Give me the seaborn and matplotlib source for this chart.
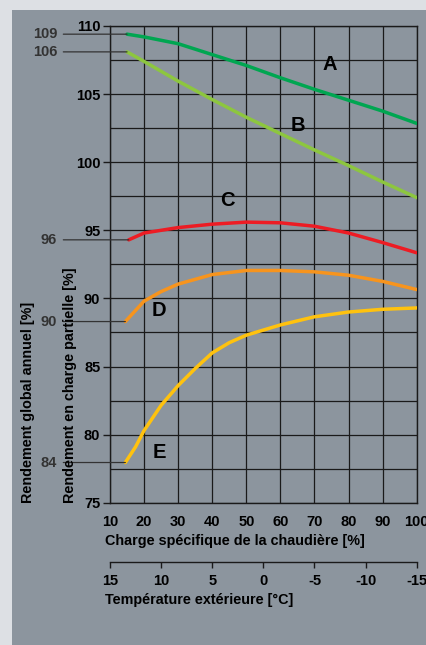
"""
Rendement de chaudière en fonction de la charge spécifique
"""

import numpy as np
import pandas as pd
import matplotlib
matplotlib.use('Agg')
import matplotlib.pyplot as plt
from matplotlib.patches import Rectangle
import seaborn as sns

# Données
charge_a = [15, 20, 30, 40, 50, 60, 70, 80, 90, 100]
rend_a = [109.4, 109.2, 108.7, 107.9, 107.1, 106.2, 105.35, 104.55, 103.75, 102.85]

charge_b = [15, 20, 30, 40, 50, 60, 70, 80, 90, 100]
rend_b = [108.1, 107.4, 105.95, 104.6, 103.3, 102.1, 100.9, 99.75, 98.55, 97.4]

charge_c = [15.5, 20, 30, 40, 50, 60, 70, 80, 90, 100]
rend_c = [94.3, 94.8, 95.2, 95.45, 95.6, 95.55, 95.3, 94.8, 94.1, 93.35]

charge_d = [14.5, 20, 25, 30, 40, 50, 60, 70, 80, 90, 100]
rend_d = [88.3, 89.8, 90.5, 91.05, 91.75, 92.05, 92.05, 91.95, 91.7, 91.25, 90.65]

charge_e = [14.5, 17.5, 20, 25, 30, 35, 40, 45, 50, 60, 70, 80, 90, 100]
rend_e = [77.95, 79.1, 80.3, 82.15, 83.6, 84.85, 86.0, 86.75, 87.3, 88.05, 88.65, 89.0, 89.2, 89.3]

courbes = ['A', 'B', 'C', 'D', 'E']
rend_annuel = ['109', '106', '96', '90', '84']
couleurs = ['#00a651', '#8dc63f', '#ed1c24', '#f7941d', '#ffc20e']

# position des lettres sur le graphique
lettre_x = [74.5, 65, 44.5, 24.5, 24.5]
lettre_y = [107.2, 102.7, 97.2, 89.1, 78.7]

x_ticks = list(range(10, 101, 10))
temp_ticks = [15, 10, 5, 0, -5, -10, -15]

charges = [charge_a, charge_b, charge_c, charge_d, charge_e]
rendements = [rend_a, rend_b, rend_c, rend_d, rend_e]

df = pd.concat([
    pd.DataFrame({'charge': c, 'rendement': r, 'courbe': nom})
    for c, r, nom in zip(charges, rendements, courbes)
], ignore_index=True)

# Style
sns.set_theme(style='ticks')
plt.rcParams['font.family'] = ['Liberation Sans', 'DejaVu Sans']
plt.rcParams['font.weight'] = 'bold'
plt.rcParams['text.color'] = 'black'
plt.rcParams['axes.unicode_minus'] = False

fond = '#dde0e4'
panneau = '#8c959e'
trait = '#1a1a1a'

W, H = 426, 645
fig = plt.figure(figsize=(W / 100, H / 100), dpi=100, facecolor=fond)
fig.patches.append(Rectangle((12 / W, 0), 1, (H - 10) / H, transform=fig.transFigure,
                             facecolor=panneau, edgecolor='none', zorder=-10))

ax = fig.add_axes([110 / W, 1 - 502.7 / H, 306.7 / W, 476.7 / H])
ax.set_facecolor(panneau)

sns.lineplot(data=df, x='charge', y='rendement', hue='courbe', sort=False,
             palette=dict(zip(courbes, couleurs)), linewidth=2.5, legend=False,
             ax=ax, zorder=3)

ax.set_xlim(10, 100)
ax.set_ylim(75, 110)
ax.set_xticks(x_ticks)
ax.set_yticks(np.arange(75, 111, 5))
ax.set_yticks(np.arange(77.5, 110, 5), minor=True)
ax.grid(which='both', color=trait, linewidth=0.9)
ax.set_axisbelow(True)
for s in ax.spines.values():
    s.set_color(trait)
    s.set_linewidth(1.0)

ax.tick_params(axis='x', length=0, pad=9, labelsize=10.5, colors='black')
ax.tick_params(axis='y', which='major', length=5, width=1, pad=2, labelsize=10.5,
               color=trait, labelcolor='black')
ax.tick_params(axis='y', which='minor', length=0)
for lab in ax.get_xticklabels() + ax.get_yticklabels():
    lab.set_fontweight('bold')
ax.set_xlabel('')
ax.set_ylabel('')

# lettres des courbes
for nom, lx, ly in zip(courbes, lettre_x, lettre_y):
    ax.text(lx, ly, nom, fontsize=14.5, fontweight='bold', ha='center', va='center',
            color='black', zorder=4)

# échelle du rendement global annuel (à gauche)
for lab, c, r in zip(rend_annuel, charges, rendements):
    ax.annotate(lab, xy=(c[0], r[0]), xycoords='data',
                xytext=(-0.172, r[0]), textcoords=('axes fraction', 'data'),
                ha='right', va='center', fontsize=10.5, fontweight='bold',
                color='#333333', annotation_clip=False,
                arrowprops=dict(arrowstyle='-', color='#333333', lw=0.9,
                                shrinkA=2, shrinkB=0))

# axe secondaire : température extérieure
def charge_vers_temp(x):
    return 15 - (np.asarray(x) - 10) / 3.0


def temp_vers_charge(t):
    return 10 + (15 - np.asarray(t)) * 3.0


sec = ax.secondary_xaxis('bottom', functions=(charge_vers_temp, temp_vers_charge))
sec.spines['bottom'].set_position(('outward', 43))
sec.spines['bottom'].set_color(trait)
sec.spines['bottom'].set_linewidth(1.0)
sec.set_xticks(temp_ticks)
sec.tick_params(axis='x', length=4, width=1, direction='out', pad=4, labelsize=10.5,
                color=trait, labelcolor='black')
for lab in sec.get_xticklabels():
    lab.set_fontweight('bold')

# titres des axes
fig.text(105 / W, 1 - 541 / H, 'Charge spécifique de la chaudière [%]',
         fontsize=10.4, fontweight='bold', ha='left', va='center')
fig.text(105 / W, 1 - 600 / H, 'Température extérieure [°C]',
         fontsize=10.4, fontweight='bold', ha='left', va='center')
fig.text(70 / W, 1 - 503 / H, 'Rendement en charge partielle [%]', rotation=90,
         fontsize=10.4, fontweight='bold', ha='center', va='bottom')
fig.text(28 / W, 1 - 503 / H, 'Rendement global annuel [%]', rotation=90,
         fontsize=10.4, fontweight='bold', ha='center', va='bottom')

fig.savefig('out.png', dpi=100, facecolor=fond)
